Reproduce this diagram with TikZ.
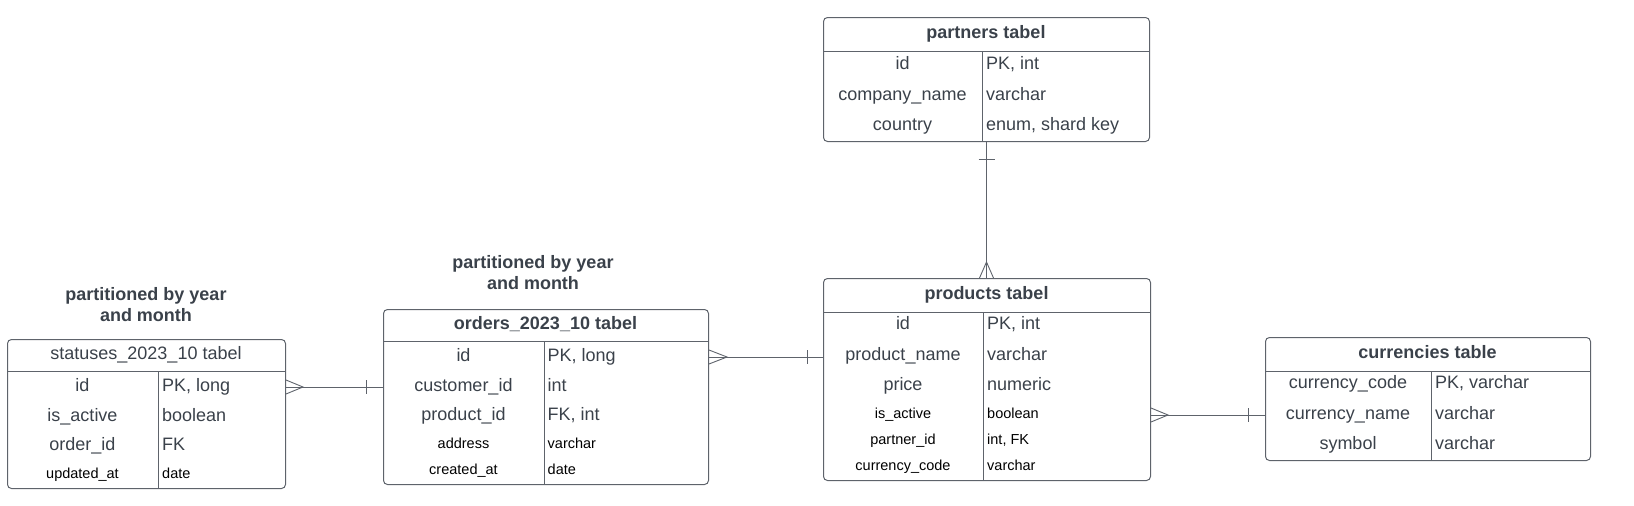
\documentclass[tikz,border=0pt]{standalone}
\usepackage{fontspec}
\setmainfont{Liberation Sans}
\usetikzlibrary{calc}
\definecolor{txt}{HTML}{3A414A}
\definecolor{ln}{HTML}{5E636B}
\begin{document}
\begin{tikzpicture}[x=1pt,y=-1pt,
  tbl/.style={draw=ln, line width=1pt, rounded corners=4pt, inner sep=0pt, anchor=north west},
  sep/.style={draw=ln, line width=1pt},
  conn/.style={draw=ln, line width=0.9pt},
  big/.style={font=\fontsize{18}{21}\selectfont, text=txt, inner sep=0pt, text height=13pt, text depth=4pt},
  bigt/.style={big, anchor=west},
  small/.style={font=\fontsize{14.5}{17}\selectfont, text=black, inner sep=0pt, text height=10.5pt, text depth=3pt},
  smallt/.style={small, anchor=west},
  hdr/.style={big, font=\fontsize{18}{21}\selectfont\bfseries},
  ttl/.style={align=center, font=\fontsize{18}{21}\selectfont\bfseries, text=txt, inner sep=0pt}
]
\useasboundingbox (0,0) rectangle (1634,506);

% ---------- statuses ----------
\node[ttl] (stt) at (146,304.5) {partitioned by year\\and month};
\node[tbl, minimum width=278pt, minimum height=149pt] (st) at (7,339) {};
\draw[sep] (st.west |- 0,371) -- (st.east |- 0,371);
\draw[sep] (158,371) -- (158,488);
\node[big] (sth) at (146,355) {statuses\_2023\_10 tabel};
\node[big] (st1) at (82.5,387) {id};          \node[bigt] (st1t) at (162,387) {PK, long};
\node[big] (st2) at (82.5,417) {is\_active};  \node[bigt] (st2t) at (162,417) {boolean};
\node[big] (st3) at (82.5,446) {order\_id};   \node[bigt] (st3t) at (162,446) {FK};
\node[small] (st4) at (82.5,475) {updated\_at}; \node[smallt] (st4t) at (162,475) {date};

% ---------- orders ----------
\node[ttl] (ort) at (533,272.5) {partitioned by year\\and month};
\node[tbl, minimum width=325pt, minimum height=175pt] (or) at (383,309) {};
\draw[sep] (or.west |- 0,341) -- (or.east |- 0,341);
\draw[sep] (544,341) -- (544,484);
\node[hdr] (orh) at (545.5,325) {orders\_2023\_10 tabel};
\node[big] (or1) at (463.5,357) {id};            \node[bigt] (or1t) at (547.5,357) {PK, long};
\node[big] (or2) at (463.5,387) {customer\_id};  \node[bigt] (or2t) at (547.5,387) {int};
\node[big] (or3) at (463.5,416) {product\_id};   \node[bigt] (or3t) at (547.5,416) {FK, int};
\node[small] (or4) at (463.5,445) {address};     \node[smallt] (or4t) at (547.5,445) {varchar};
\node[small] (or5) at (463.5,471) {created\_at};  \node[smallt] (or5t) at (547.5,471) {date};

% ---------- partners ----------
\node[tbl, minimum width=326pt, minimum height=124pt] (pa) at (823,17) {};
\draw[sep] (pa.west |- 0,51) -- (pa.east |- 0,51);
\draw[sep] (982,51) -- (982,141);
\node[hdr] (pah) at (986,34) {partners tabel};
\node[big] (pa1) at (902.5,65) {id};             \node[bigt] (pa1t) at (986,65) {PK, int};
\node[big] (pa2) at (902.5,96) {company\_name};  \node[bigt] (pa2t) at (986,96) {varchar};
\node[big] (pa3) at (902.5,126) {country};       \node[bigt] (pa3t) at (986,126) {enum, shard key};

% ---------- products ----------
\node[tbl, minimum width=327pt, minimum height=202pt] (pr) at (823,278) {};
\draw[sep] (pr.west |- 0,312) -- (pr.east |- 0,312);
\draw[sep] (983,312) -- (983,480);
\node[hdr] (prh) at (986.5,295) {products tabel};
\node[big] (pr1) at (903,325) {id};               \node[bigt] (pr1t) at (987,325) {PK, int};
\node[big] (pr2) at (903,356) {product\_name};    \node[bigt] (pr2t) at (987,356) {varchar};
\node[big] (pr3) at (903,386) {price};            \node[bigt] (pr3t) at (987,386) {numeric};
\node[small] (pr4) at (903,415) {is\_active};     \node[smallt] (pr4t) at (987,415) {boolean};
\node[small] (pr5) at (903,441) {partner\_id};    \node[smallt] (pr5t) at (987,441) {int, FK};
\node[small] (pr6) at (903,467) {currency\_code}; \node[smallt] (pr6t) at (987,467) {varchar};

% ---------- currencies ----------
\node[tbl, minimum width=325pt, minimum height=123pt] (cu) at (1265,337) {};
\draw[sep] (cu.west |- 0,371) -- (cu.east |- 0,371);
\draw[sep] (1431,371) -- (1431,460);
\node[hdr] (cuh) at (1427.5,354) {currencies table};
\node[big] (cu1) at (1348,384) {currency\_code};  \node[bigt] (cu1t) at (1435,384) {PK, varchar};
\node[big] (cu2) at (1348,415) {currency\_name};  \node[bigt] (cu2t) at (1435,415) {varchar};
\node[big] (cu3) at (1348,445) {symbol};          \node[bigt] (cu3t) at (1435,445) {varchar};

% ---------- connectors ----------
% statuses (many) -- orders (one)
\coordinate (a1) at (st.east |- st1);
\coordinate (a2) at (or.west |- st1);
\draw[conn] (a1) -- (a2);
\draw[conn] ($(a1)+(0,-7)$) -- ($(a1)+(17,0)$) -- ($(a1)+(0,7)$);
\draw[conn] ($(a2)+(-17,-7)$) -- ($(a2)+(-17,7)$);

% orders (many) -- products (one)
\coordinate (b1) at (or.east |- or1);
\coordinate (b2) at (pr.west |- or1);
\draw[conn] (b1) -- (b2);
\draw[conn] ($(b1)+(0,-7)$) -- ($(b1)+(18,0)$) -- ($(b1)+(0,7)$);
\draw[conn] ($(b2)+(-16,-7)$) -- ($(b2)+(-16,7)$);

% partners (one) -- products (many)
\coordinate (c1) at (pa.south);
\coordinate (c2) at (pr.north -| pa.south);
\draw[conn] (c1) -- (c2);
\draw[conn] ($(c1)+(-8,17)$) -- ($(c1)+(8,17)$);
\draw[conn] ($(c2)+(-7,0)$) -- ($(c2)+(0,-16)$) -- ($(c2)+(7,0)$);

% products (many) -- currencies (one)
\coordinate (d1) at (pr.east |- cu2);
\coordinate (d2) at (cu.west |- cu2);
\draw[conn] (d1) -- (d2);
\draw[conn] ($(d1)+(0,-7)$) -- ($(d1)+(17,0)$) -- ($(d1)+(0,7)$);
\draw[conn] ($(d2)+(-17,-7)$) -- ($(d2)+(-17,7)$);
\end{tikzpicture}
\end{document}
